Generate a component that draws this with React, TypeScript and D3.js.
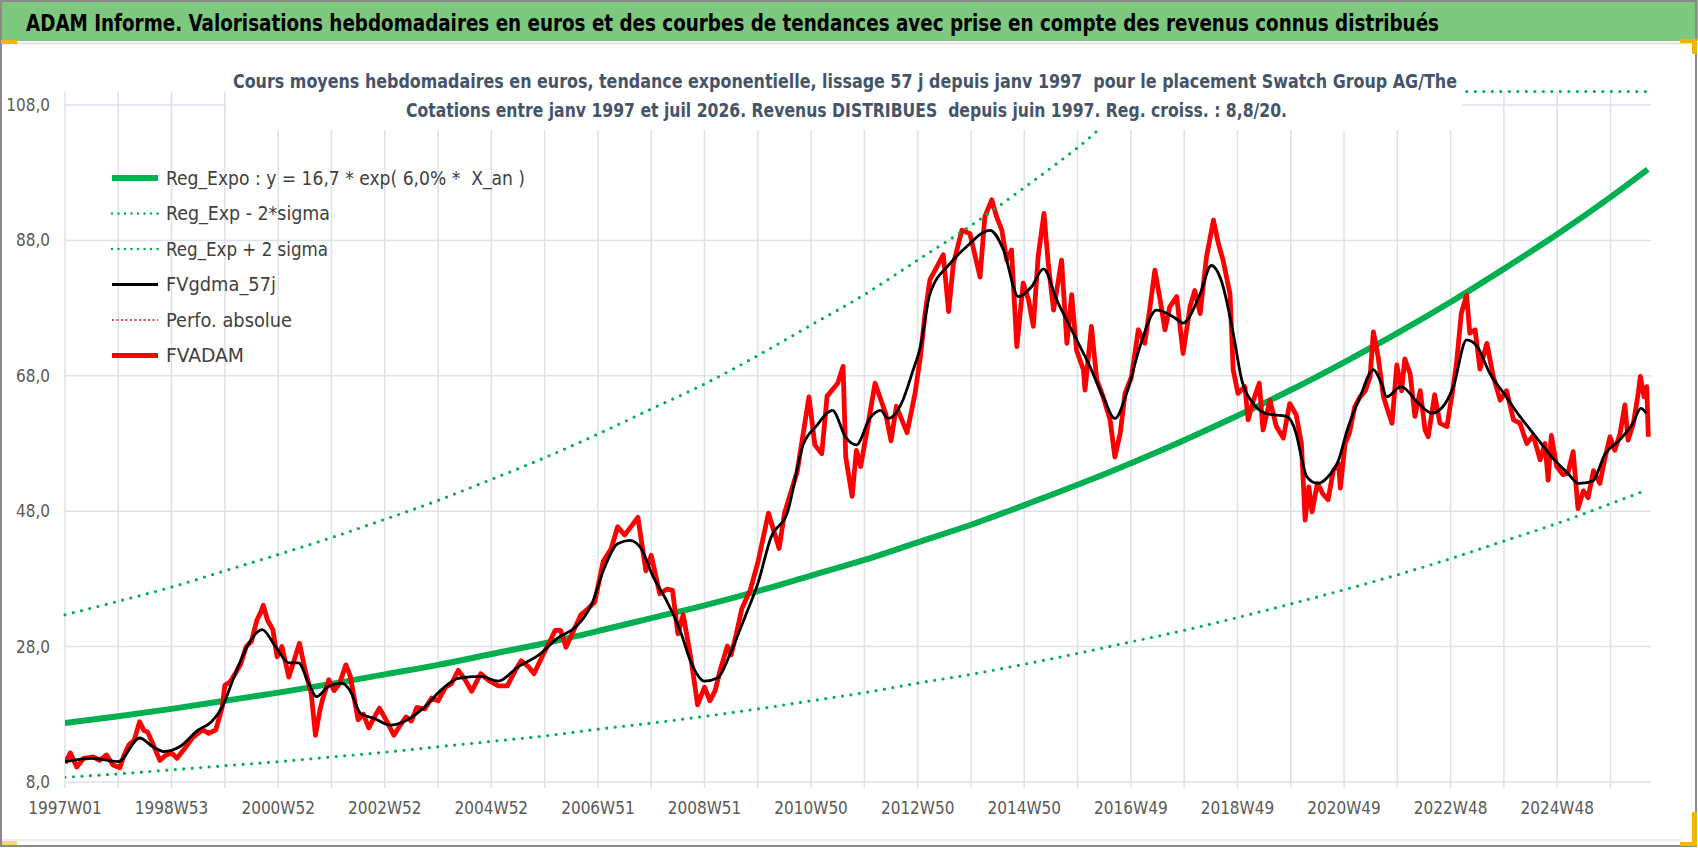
import { scaleLinear, line, curveMonotoneX, curveLinear, range } from "d3";

// X_an : years since 1997W01 (one vertical gridline per 52 weeks)
const tickYears = [0, 2, 4, 6, 8, 10, 12, 14, 16, 18, 20, 22, 24, 26, 28];
const tickLabels = [
    "1997W01", "1998W53", "2000W52", "2002W52", "2004W52", "2006W51", "2008W51", "2010W50",
    "2012W50", "2014W50", "2016W49", "2018W49", "2020W49", "2022W48", "2024W48",
];
const yTicks = [8, 28, 48, 68, 88, 108];

// trend curves, read once per year
const trendYears = [0, 1, 2, 3, 4, 5, 6, 7, 8, 9, 10, 11, 12, 13, 14, 15, 16, 17, 18, 19, 20, 21, 22, 23, 24, 25, 26, 27, 28, 29, 29.7];
const regExpo = [16.7, 17.7, 18.8, 20.0, 21.2, 22.5, 23.9, 25.3, 26.9, 28.5, 30.3, 32.2, 34.1, 36.2, 38.5, 40.8, 43.4, 46.0, 48.9, 51.9, 55.1, 58.5, 62.1, 65.9, 70.0, 74.3, 78.9, 83.8, 88.9, 94.4, 98.5];
const regMinus2Sigma = [8.7, 9.2, 9.8, 10.4, 11.0, 11.7, 12.4, 13.2, 14.0, 14.8, 15.8, 16.7, 17.7, 18.8, 20.0, 21.2, 22.6, 23.9, 25.4, 27.0, 28.7, 30.4, 32.3, 34.3, 36.4, 38.6, 41.0, 43.6, 46.2, 49.1, 51.2];
const regPlus2Sigma = [32.7, 34.7, 36.8, 39.2, 41.6, 44.1, 46.8, 49.6, 52.7, 55.9, 59.4, 63.1, 66.8, 71.0, 75.5, 80.0, 85.1, 90.2, 95.8, 101.7, 108.0, 114.7, 121.7, 129.2, 137.2, 145.6, 154.6, 164.2, 174.2, 185.0, 193.0];

// FVADAM [X_an, value]
const fvadam: [number, number][] = [
    [0, 10.8], [0.1, 12.3], [0.22, 10.2], [0.35, 11.5], [0.53, 11.7], [0.65, 11.2], [0.78, 12.0], [0.9, 10.5], [1.03, 10.1], [1.1, 11.8],
    [1.2, 13.5], [1.3, 14.2], [1.4, 16.9], [1.48, 15.6], [1.55, 15.4], [1.65, 13.6], [1.78, 11.2], [1.9, 12.0], [2.0, 12.3], [2.1, 11.5],
    [2.25, 13.0], [2.4, 14.6], [2.58, 15.7], [2.7, 15.2], [2.83, 15.7], [2.95, 19.1], [3.0, 22.3], [3.1, 22.8], [3.2, 24.1], [3.3, 25.5],
    [3.4, 28.0], [3.5, 28.8], [3.6, 31.9], [3.68, 33.2], [3.72, 34.1], [3.8, 31.9], [3.9, 30.5], [3.98, 26.5], [4.07, 28.0], [4.2, 23.5],
    [4.3, 26.0], [4.4, 28.5], [4.5, 24.7], [4.62, 21.1], [4.7, 14.9], [4.78, 18.5], [4.83, 20.1], [4.95, 23.1], [5.05, 21.5], [5.15, 22.5],
    [5.27, 25.3], [5.35, 23.7], [5.5, 17.2], [5.6, 18.0], [5.7, 16.0], [5.8, 17.5], [5.9, 18.9], [6.05, 16.8], [6.17, 14.9], [6.3, 16.5],
    [6.4, 17.6], [6.5, 17.0], [6.6, 19.0], [6.75, 18.8], [6.88, 20.4], [7.0, 20.0], [7.14, 22.0], [7.25, 22.5], [7.38, 24.5], [7.5, 23.2],
    [7.63, 21.4], [7.8, 24.0], [7.95, 23.0], [8.13, 22.2], [8.3, 22.2], [8.45, 24.5], [8.56, 25.9], [8.7, 25.0], [8.8, 24.0], [9.0, 27.3],
    [9.2, 30.4], [9.3, 30.4], [9.4, 27.9], [9.55, 30.5], [9.68, 32.7], [9.8, 33.5], [9.94, 34.6], [10.1, 40.6], [10.25, 42.5], [10.37, 45.7],
    [10.5, 44.5], [10.6, 45.5], [10.75, 47.1], [10.9, 39.2], [11.0, 41.5], [11.16, 35.8], [11.3, 36.5], [11.4, 36.3], [11.5, 29.9], [11.6, 32.7],
    [11.75, 26.0], [11.87, 19.4], [12.0, 22.0], [12.1, 20.0], [12.2, 21.5], [12.3, 24.7], [12.43, 28.1], [12.5, 26.8], [12.6, 30.0], [12.7, 33.6],
    [12.86, 36.4], [13.0, 40.4], [13.2, 47.7], [13.4, 42.5], [13.5, 47.7], [13.74, 53.9], [13.96, 64.9], [14.07, 57.8], [14.2, 56.5], [14.3, 65.0],
    [14.5, 66.9], [14.6, 69.4], [14.65, 56.0], [14.77, 50.2], [14.85, 57.0], [14.93, 54.6], [15.05, 60.0], [15.2, 66.9], [15.4, 62.4], [15.5, 58.4],
    [15.6, 63.5], [15.8, 59.6], [15.95, 65.4], [16.05, 70.8], [16.14, 77.3], [16.23, 82.2], [16.36, 84.1], [16.48, 85.9], [16.58, 77.5], [16.67, 84.6],
    [16.83, 89.5], [16.98, 89.0], [17.17, 82.6], [17.26, 91.5], [17.39, 94.0], [17.48, 91.5], [17.58, 89.5], [17.67, 85.1], [17.76, 86.6], [17.86, 72.3],
    [17.98, 81.7], [18.08, 79.2], [18.17, 75.3], [18.26, 85.6], [18.37, 92.0], [18.45, 84.6], [18.55, 77.7], [18.7, 85.1], [18.8, 72.8], [18.89, 80.0],
    [18.98, 71.8], [19.11, 68.9], [19.14, 65.9], [19.26, 75.3], [19.36, 67.4], [19.48, 64.9], [19.61, 61.5], [19.7, 56.0], [19.8, 59.5], [19.89, 65.4],
    [20.01, 67.8], [20.14, 74.8], [20.26, 72.8], [20.36, 78.2], [20.45, 83.6], [20.55, 79.2], [20.64, 74.8], [20.73, 78.2], [20.86, 79.7], [20.98, 71.3],
    [21.11, 78.2], [21.2, 80.6], [21.3, 77.2], [21.42, 85.6], [21.55, 91.0], [21.64, 87.6], [21.73, 85.1], [21.86, 80.1], [21.92, 68.9], [22.01, 65.4],
    [22.14, 66.4], [22.2, 61.5], [22.3, 64.4], [22.41, 66.9], [22.48, 60.0], [22.61, 64.4], [22.73, 60.5], [22.86, 58.8], [22.98, 63.9], [23.1, 62.3],
    [23.2, 58.0], [23.27, 46.7], [23.34, 51.6], [23.4, 47.9], [23.5, 52.1], [23.6, 50.6], [23.7, 49.7], [23.8, 54.0], [23.9, 55.0], [23.93, 51.4],
    [24.02, 58.0], [24.1, 59.5], [24.2, 63.4], [24.3, 64.9], [24.4, 65.8], [24.49, 67.9], [24.55, 74.5], [24.64, 70.8], [24.74, 64.9], [24.8, 63.4],
    [24.9, 61.0], [24.99, 69.6], [25.08, 65.8], [25.14, 70.5], [25.24, 68.3], [25.33, 62.0], [25.43, 65.8], [25.52, 60.0], [25.58, 59.0], [25.7, 65.2],
    [25.8, 61.0], [25.93, 60.5], [26.02, 64.9], [26.11, 69.8], [26.2, 77.2], [26.3, 79.9], [26.36, 74.3], [26.46, 74.8], [26.55, 69.0], [26.68, 72.8],
    [26.8, 67.9], [26.93, 64.4], [27.05, 65.8], [27.18, 61.5], [27.3, 61.0], [27.43, 58.0], [27.55, 59.2], [27.68, 55.6], [27.77, 58.0], [27.83, 52.6],
    [27.89, 59.2], [27.99, 54.6], [28.11, 53.4], [28.2, 53.6], [28.3, 56.8], [28.39, 48.4], [28.49, 51.0], [28.58, 50.0], [28.68, 54.0], [28.8, 52.1],
    [28.89, 55.6], [28.99, 59.0], [29.08, 57.0], [29.18, 59.5], [29.27, 63.7], [29.33, 58.5], [29.43, 61.0], [29.52, 65.4], [29.56, 67.9], [29.63, 64.9],
    [29.68, 66.4], [29.71, 59.0],
];

// FVgdma_57j [X_an, value]
const fvgdma57: [number, number][] = [
    [0, 11.0], [0.5, 11.5], [1.0, 11.0], [1.4, 14.5], [1.65, 13.2], [1.85, 12.5], [2.15, 13.2], [2.5, 15.7], [2.75, 16.9], [2.95, 19.1],
    [3.2, 24.1], [3.45, 28.5], [3.7, 30.5], [3.95, 28.0], [4.2, 25.6], [4.38, 25.6], [4.57, 22.6], [4.72, 20.6], [4.94, 22.1], [5.19, 22.6],
    [5.34, 21.6], [5.55, 18.1], [5.8, 17.4], [6.1, 16.4], [6.4, 17.1], [6.75, 19.1], [7.06, 21.6], [7.38, 23.3], [7.8, 23.6], [8.13, 22.9],
    [8.5, 25.0], [8.9, 26.8], [9.25, 29.3], [9.55, 30.7], [9.9, 34.6], [10.1, 39.2], [10.37, 43.2], [10.6, 43.7], [10.8, 42.6], [11.05, 38.1],
    [11.3, 34.6], [11.55, 30.2], [11.75, 25.6], [12.0, 22.9], [12.25, 23.4], [12.5, 27.3], [12.75, 32.2], [13.0, 37.3], [13.25, 44.2], [13.55, 47.7],
    [13.85, 57.8], [14.1, 60.6], [14.4, 62.9], [14.65, 58.9], [14.85, 57.8], [15.1, 61.7], [15.3, 62.9], [15.45, 61.7], [15.7, 64.0], [15.9, 68.5],
    [16.05, 72.3], [16.23, 80.1], [16.61, 84.6], [16.92, 87.1], [17.36, 89.5], [17.61, 86.6], [17.89, 79.7], [18.14, 81.2], [18.36, 83.8], [18.61, 79.2],
    [18.92, 74.3], [19.23, 69.4], [19.48, 64.9], [19.7, 61.7], [19.92, 65.4], [20.17, 72.3], [20.48, 77.7], [20.8, 76.7], [20.98, 75.8], [21.3, 80.1],
    [21.51, 84.3], [21.7, 82.0], [21.92, 74.3], [22.08, 67.4], [22.3, 63.9], [22.55, 62.4], [22.92, 62.0], [23.1, 59.5], [23.2, 56.0], [23.3, 53.1],
    [23.5, 52.1], [23.7, 53.1], [23.9, 55.6], [24.06, 60.0], [24.3, 64.9], [24.55, 68.9], [24.7, 66.9], [24.8, 64.9], [25.07, 66.4], [25.4, 63.9],
    [25.65, 62.5], [25.85, 63.4], [26.05, 66.4], [26.3, 73.3], [26.5, 72.3], [26.74, 68.3], [27.0, 65.4], [27.3, 62.0], [27.6, 59.0], [27.9, 56.0],
    [28.2, 53.6], [28.4, 52.1], [28.66, 52.4], [28.9, 56.5], [29.17, 58.5], [29.42, 61.0], [29.57, 63.2], [29.67, 62.5],
];

const TITLE = "ADAM Informe. Valorisations hebdomadaires en euros et des courbes de tendances avec prise en compte des revenus connus distribués";
const SUB1 = "Cours moyens hebdomadaires en euros, tendance exponentielle, lissage 57 j depuis janv 1997  pour le placement Swatch Group AG/The";
const SUB2 = "Cotations entre janv 1997 et juil 2026. Revenus DISTRIBUES  depuis juin 1997. Reg. croiss. : 8,8/20.";

const GREEN = "#00B050";
const RED = "#FF0000";
const GRID = "#dde1e8";
const FONT = "'Liberation Sans Narrow', 'DejaVu Sans Condensed', Roboto, sans-serif";

const legendItems = [
    { label: "Reg_Expo : y = 16,7 * exp( 6,0% *  X_an )", color: GREEN, width: 6, dash: "", len: 359 },
    { label: "Reg_Exp - 2*sigma", color: GREEN, width: 2.5, dash: "0 6.5", len: 164 },
    { label: "Reg_Exp + 2 sigma", color: GREEN, width: 2.5, dash: "0 6.5", len: 162 },
    { label: "FVgdma_57j", color: "#000000", width: 3, dash: "", len: 110 },
    { label: "Perfo. absolue", color: RED, width: 1.6, dash: "2 2.5", len: 126 },
    { label: "FVADAM", color: RED, width: 5, dash: "", len: 78 },
];

export default function App() {
    const width = 1698;
    const height = 848;
    const left = 65;
    const right = 1651;
    const bottom = 782;

    const x = scaleLinear().domain([0, 29.76]).range([left, right]);
    const y = scaleLinear().domain([8, 110]).range([bottom, 91.5]);
    const yClamped = y.copy().clamp(true);
    const top = y(110);

    const trend = (vals: number[], sy = y) =>
        line<number>()
            .x((_, i) => x(trendYears[i]))
            .y((v) => sy(v))
            .curve(curveMonotoneX)(vals) ?? "";

    const series = (pts: [number, number][], smooth = false) =>
        line<[number, number]>()
            .x((d) => x(d[0]))
            .y((d) => y(d[1]))
            .curve(smooth ? curveMonotoneX : curveLinear)(pts) ?? "";

    const gridYears = range(0, 30);

    return (
        <div style={{ position: "absolute", left: 0, top: 0 }}>
            <svg width={width} height={height} style={{ display: "block", background: "#fff" }}>
                <defs>
                    <clipPath id="plot">
                        <rect x={left} y={top} width={right - left} height={bottom - top + 1} />
                    </clipPath>
                </defs>

                {/* title band */}
                <rect x={0} y={0} width={width} height={41} fill="#7ec77e" />
                <line x1={0} x2={width} y1={43.5} y2={43.5} stroke="#e3e3e3" strokeWidth={2} />
                <text
                    x={26}
                    y={31}
                    fontFamily={FONT}
                    fontWeight="bold"
                    fontSize={23}
                    fill="#000"
                    textLength={1413}
                    lengthAdjust="spacingAndGlyphs"
                >
                    {TITLE}
                </text>

                {/* gridlines */}
                <g>
                    {yTicks.map((t) => (
                        <line key={t} x1={left} x2={right} y1={y(t)} y2={y(t)} stroke={GRID} strokeWidth={1.5} />
                    ))}
                    {gridYears.map((t) => (
                        <line key={t} x1={x(t)} x2={x(t)} y1={top} y2={bottom + 6} stroke={GRID} strokeWidth={1.5} />
                    ))}
                </g>

                {/* y axis labels */}
                {yTicks.map((t) => (
                    <text
                        key={t}
                        x={50}
                        y={y(t)}
                        dy="0.35em"
                        textAnchor="end"
                        fontFamily={FONT}
                        fontSize={17}
                        fill="#595959"
                    >
                        {t.toFixed(1).replace(".", ",")}
                    </text>
                ))}

                {/* x axis labels */}
                {tickYears.map((t, i) => (
                    <text
                        key={t}
                        x={x(t)}
                        y={814}
                        textAnchor="middle"
                        fontFamily={FONT}
                        fontSize={17}
                        fill="#595959"
                    >
                        {tickLabels[i]}
                    </text>
                ))}

                {/* series */}
                <g clipPath="url(#plot)" fill="none" strokeLinejoin="round">
                    <path d={trend(regMinus2Sigma)} stroke={GREEN} strokeWidth={3.2} strokeDasharray="0 8.5" strokeLinecap="round" />
                    <path d={trend(regExpo)} stroke={GREEN} strokeWidth={6} />
                    <path d={series(fvadam)} stroke={RED} strokeWidth={4.8} />
                    <path d={series(fvgdma57, true)} stroke="#000" strokeWidth={2.8} />
                </g>
                <path
                    d={trend(regPlus2Sigma, yClamped)}
                    fill="none"
                    stroke={GREEN}
                    strokeWidth={3.2}
                    strokeDasharray="0 8.5"
                    strokeLinecap="round"
                />

                {/* subtitle box */}
                <rect x={226} y={55} width={1236} height={75} fill="#fff" />
                <text
                    x={845}
                    y={88}
                    textAnchor="middle"
                    fontFamily={FONT}
                    fontWeight="bold"
                    fontSize={20}
                    fill="#44546A"
                    textLength={1224}
                    lengthAdjust="spacingAndGlyphs"
                    style={{ whiteSpace: "pre" }}
                >
                    {SUB1}
                </text>
                <text
                    x={846.5}
                    y={117}
                    textAnchor="middle"
                    fontFamily={FONT}
                    fontWeight="bold"
                    fontSize={20}
                    fill="#44546A"
                    textLength={881}
                    lengthAdjust="spacingAndGlyphs"
                    style={{ whiteSpace: "pre" }}
                >
                    {SUB2}
                </text>

                {/* legend */}
                <g>
                    {legendItems.map((item, i) => {
                        const cy = 178 + i * 35.5;
                        return (
                            <g key={item.label}>
                                <line
                                    x1={112}
                                    x2={158}
                                    y1={cy}
                                    y2={cy}
                                    stroke={item.color}
                                    strokeWidth={item.width}
                                    strokeDasharray={item.dash || undefined}
                                    strokeLinecap={item.dash.startsWith("0") ? "round" : "butt"}
                                />
                                <text
                                    x={166}
                                    y={cy}
                                    dy="0.35em"
                                    fontFamily={FONT}
                                    fontSize={19.5}
                                    fill="#404040"
                                    textLength={item.len}
                                    lengthAdjust="spacingAndGlyphs"
                                    style={{ whiteSpace: "pre" }}
                                >
                                    {item.label}
                                </text>
                            </g>
                        );
                    })}
                </g>

                {/* frame and selection handles */}
                <line x1={0} x2={1682} y1={840} y2={840} stroke="#e6e6e6" strokeWidth={1.5} />
                <rect x={1} y={1} width={1695} height={845} fill="none" stroke="#8a8a8a" strokeWidth={2} />
                <rect x={1} y={40} width={16} height={4} fill="#F5B400" />
                <rect x={1680} y={39} width={17} height={4} fill="#F5B400" />
                <rect x={1692} y={39} width={5} height={15} fill="#F5B400" />
                <rect x={1692} y={812} width={5} height={34} fill="#F5B400" />
                <rect x={1680} y={842} width={17} height={4} fill="#F5B400" />
                <rect x={2} y={841} width={15} height={4} fill="#FFD966" />
            </svg>
        </div>
    );
}
